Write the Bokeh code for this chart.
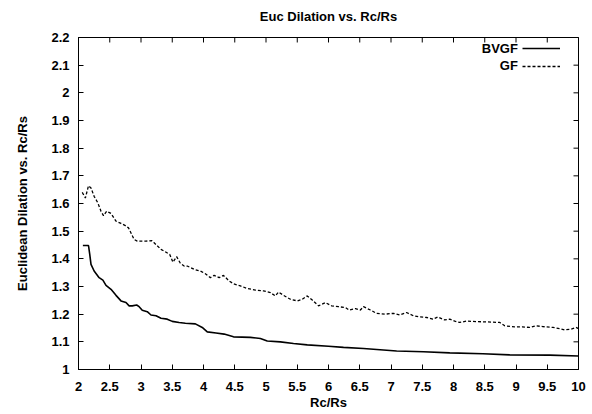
from bokeh.plotting import figure
from bokeh.models import (FixedTicker, Range1d, Legend, LegendItem, Label, LinearAxis)
from bokeh.embed import file_html
from bokeh.resources import INLINE

# ---- data ----
gf_x = [2.06, 2.11, 2.16, 2.20, 2.25, 2.31, 2.36, 2.40, 2.45, 2.52, 2.60, 2.68, 2.75, 2.80,
        2.89, 2.94, 3.08, 3.17, 3.21, 3.32, 3.40, 3.46, 3.51, 3.57, 3.63, 3.69, 3.74, 3.85,
        3.95, 4.03, 4.11, 4.17, 4.25, 4.32, 4.41, 4.48, 4.59, 4.70, 4.83, 4.96, 5.07, 5.15,
        5.20, 5.28, 5.39, 5.50, 5.58, 5.66, 5.74, 5.84, 5.95, 6.05, 6.16, 6.27, 6.33, 6.43,
        6.51, 6.56, 6.67, 6.77, 6.90, 7.04, 7.14, 7.25, 7.36, 7.46, 7.57, 7.67, 7.75, 7.86,
        7.94, 8.02, 8.10, 8.21, 8.37, 8.53, 8.74, 8.82, 8.98, 9.10, 9.22, 9.32, 9.43, 9.59,
        9.70, 9.78, 9.88, 9.96, 10.0]
gf_y = [1.640, 1.620, 1.664, 1.656, 1.626, 1.602, 1.572, 1.556, 1.572, 1.564, 1.536, 1.528,
        1.520, 1.512, 1.470, 1.464, 1.464, 1.466, 1.458, 1.434, 1.424, 1.416, 1.388, 1.408,
        1.384, 1.374, 1.374, 1.362, 1.356, 1.346, 1.332, 1.340, 1.332, 1.340, 1.320, 1.310,
        1.302, 1.293, 1.287, 1.284, 1.278, 1.266, 1.280, 1.268, 1.254, 1.248, 1.254, 1.266,
        1.251, 1.230, 1.242, 1.230, 1.227, 1.224, 1.215, 1.220, 1.215, 1.227, 1.215, 1.203,
        1.200, 1.203, 1.197, 1.206, 1.194, 1.190, 1.188, 1.182, 1.190, 1.179, 1.182, 1.175,
        1.170, 1.175, 1.173, 1.172, 1.170, 1.158, 1.154, 1.154, 1.152, 1.158, 1.155, 1.152,
        1.148, 1.143, 1.146, 1.152, 1.148]

bvgf_x = [2.07, 2.16, 2.18, 2.20, 2.25, 2.33, 2.39, 2.44, 2.52, 2.60, 2.68, 2.76, 2.81, 2.86,
          2.93, 2.97, 3.02, 3.10, 3.16, 3.24, 3.32, 3.42, 3.50, 3.61, 3.71, 3.87, 3.98, 4.06,
          4.20, 4.33, 4.48, 4.75, 4.91, 5.02, 5.23, 5.44, 5.66, 6.00, 6.24, 6.56, 7.09, 7.52,
          7.94, 8.47, 8.90, 9.54, 10.0]
bvgf_y = [1.448, 1.448, 1.416, 1.380, 1.356, 1.332, 1.323, 1.304, 1.290, 1.268, 1.248, 1.242,
          1.230, 1.230, 1.233, 1.227, 1.214, 1.209, 1.197, 1.194, 1.185, 1.182, 1.174, 1.170,
          1.167, 1.165, 1.152, 1.136, 1.132, 1.128, 1.118, 1.116, 1.112, 1.103, 1.100, 1.094,
          1.089, 1.084, 1.080, 1.076, 1.067, 1.064, 1.060, 1.057, 1.053, 1.052, 1.049]

x_ticks = [2, 2.5, 3, 3.5, 4, 4.5, 5, 5.5, 6, 6.5, 7, 7.5, 8, 8.5, 9, 9.5, 10]
x_tick_labels = ["2", "2.5", "3", "3.5", "4", "4.5", "5", "5.5", "6", "6.5", "7", "7.5",
                 "8", "8.5", "9", "9.5", "10"]
y_ticks = [1.0, 1.1, 1.2, 1.3, 1.4, 1.5, 1.6, 1.7, 1.8, 1.9, 2.0, 2.1, 2.2]
y_tick_labels = ["1", "1.1", "1.2", "1.3", "1.4", "1.5", "1.6", "1.7", "1.8", "1.9", "2",
                 "2.1", "2.2"]

series_names = ["BVGF", "GF"]
title_text = "Euc Dilation vs. Rc/Rs"
x_label = "Rc/Rs"
y_label = "Euclidean Dilation vs. Rc/Rs"

X_MIN, X_MAX = 2, 10
Y_MIN, Y_MAX = 1, 2.2

FONT = "Liberation Sans"
FS = "13px"
BORDER_L, BORDER_R, BORDER_T, BORDER_B = 78, 8, 37, 42
FRAME_W, FRAME_H = 500, 333
TICK_PX = 5

p = figure(width=BORDER_L + FRAME_W + BORDER_R, height=BORDER_T + FRAME_H + BORDER_B,
           output_backend="svg", toolbar_location=None,
           x_range=Range1d(X_MIN, X_MAX), y_range=Range1d(Y_MIN, Y_MAX),
           min_border_left=BORDER_L, min_border_right=BORDER_R,
           min_border_top=BORDER_T, min_border_bottom=BORDER_B)

p.grid.visible = False
p.outline_line_color = "black"
p.outline_line_width = 1
p.background_fill_color = "white"
p.border_fill_color = "white"

xo = {t: l for t, l in zip(x_ticks, x_tick_labels)}
yo = {t: l for t, l in zip(y_ticks, y_tick_labels)}


def style_axis(ax, ticks, overrides):
    ax.ticker = FixedTicker(ticks=ticks)
    ax.major_label_overrides = overrides
    ax.major_tick_in = TICK_PX
    ax.major_tick_out = 0
    ax.minor_tick_in = 0
    ax.minor_tick_out = 0
    ax.axis_line_color = "black"
    ax.major_tick_line_color = "black"
    ax.major_label_text_font = FONT
    ax.major_label_text_font_style = "bold"
    ax.major_label_text_color = "black"
    ax.major_label_text_font_size = FS
    ax.axis_label_text_font = FONT
    ax.axis_label_text_font_size = FS
    ax.axis_label_text_font_style = "bold"
    ax.axis_label_text_color = "black"


xa = p.xaxis[0]
ya = p.yaxis[0]
style_axis(xa, x_ticks, xo)
style_axis(ya, y_ticks, yo)
xa.major_label_standoff = 12
ya.major_label_standoff = 9
xa.axis_label = x_label
ya.axis_label = y_label
xa.axis_label_standoff = 1
ya.axis_label_standoff = 18

# title: carried as the label of a tick-less axis above the frame
top_ax = LinearAxis(ticker=FixedTicker(ticks=[]), axis_label=title_text)
top_ax.axis_label_text_font = FONT
top_ax.axis_label_text_font_size = FS
top_ax.axis_label_text_font_style = "bold"
top_ax.axis_label_text_color = "black"
top_ax.axis_label_standoff = 14
top_ax.axis_line_color = "black"
top_ax.major_tick_out = 0
top_ax.major_tick_in = 0
top_ax.minor_tick_out = 0
top_ax.minor_tick_in = 0
top_ax.major_label_standoff = 0
p.add_layout(top_ax, "above")

# mirrored inward ticks on the top and right frame edges
dy = TICK_PX * (Y_MAX - Y_MIN) / FRAME_H
dx = TICK_PX * (X_MAX - X_MIN) / FRAME_W
p.segment(x0=x_ticks, y0=[Y_MAX] * len(x_ticks), x1=x_ticks, y1=[Y_MAX - dy] * len(x_ticks),
          line_color="black", line_width=1)
p.segment(x0=[X_MAX] * len(y_ticks), y0=y_ticks, x1=[X_MAX - dx] * len(y_ticks), y1=y_ticks,
          line_color="black", line_width=1)

r_b = p.line(bvgf_x, bvgf_y, line_color="black", line_width=1.6)
r_g = p.line(gf_x, gf_y, line_color="black", line_width=1.3, line_dash="3 2")

legend = Legend(items=[LegendItem(label=" ", renderers=[r_b]),
                       LegendItem(label=" ", renderers=[r_g])],
                location="top_right", glyph_width=38, glyph_height=18,
                label_width=16, label_standoff=0, label_height=18, spacing=0,
                padding=0, margin=2, border_line_color=None,
                background_fill_alpha=0, label_text_font_size="1px")
p.add_layout(legend)

# legend texts (right-aligned, left of the samples)
for name, yv in zip(series_names, [2.162, 2.097]):
    p.add_layout(Label(x=9.03, y=yv, text=name, text_align="right", text_baseline="middle",
                       text_font=FONT, text_font_size=FS, text_font_style="bold",
                       text_color="black"))

open("out.html", "w").write(file_html(p, INLINE))
